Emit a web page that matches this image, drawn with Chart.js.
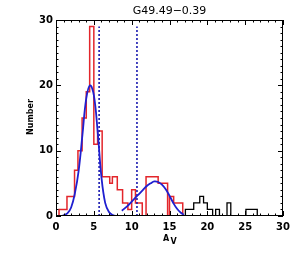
<!DOCTYPE html>
<html><head><meta charset="utf-8">
<script src="https://cdn.jsdelivr.net/npm/chart.js@4/dist/chart.umd.min.js"></script>
<style>html,body{margin:0;padding:0;background:#fff}canvas{display:block}</style>
</head><body>
<canvas id="c" width="300" height="253"></canvas>
<script>
// ---- data ----
const titleText = 'G49.49\u22120.39';
const xLabelMain = 'A';
const xLabelSub = 'V';
const yLabel = 'Number';
const xTickValues = [0, 5, 10, 15, 20, 25, 30];
const yTickValues = [0, 10, 20, 30];

// red histogram: bin edges (n+1) and counts (n)
const redEdges = [0.4, 1.45, 2.45, 2.9, 3.45, 4.0, 4.45, 5.0, 5.5, 6.1, 7.1, 7.45, 8.1, 8.8, 9.5, 10.0, 10.5, 11.4, 11.9, 13.5, 14.75, 15.0, 15.55, 16.75];
const redCounts = [1, 3, 7, 10, 15, 19, 29, 11, 13, 6, 5, 6, 4, 2, 1, 4, 2, 0, 6, 5, 0, 3, 2];

// black histogram (tail)
const blackEdges = [17.1, 18.2, 19.0, 19.5, 20.0, 20.7, 21.1, 21.6, 22.6, 23.1, 25.1, 26.6];
const blackCounts = [1, 2, 3, 2, 1, 0, 1, 0, 2, 0, 1];

// blue fitted curves
const fit1X = [0.8, 1.5, 2.0, 2.5, 3.0, 3.5, 4.0, 4.5, 5.0, 5.5, 6.0, 6.5, 7.0, 7.5, 8.0, 8.6];
const fit1Y = [0, 0.4, 1.3, 3.5, 7, 12.5, 18, 20, 18.5, 13, 6, 2, 0.6, 0.15, 0.02, 0];
const fit2X = [8.7, 9.5, 10.0, 10.5, 11.0, 11.5, 12.0, 12.5, 13.0, 13.5, 14.0, 14.5, 15.0, 15.5, 16.0, 16.5, 16.9];
const fit2Y = [0.8, 1.6, 2.2, 2.8, 3.4, 4.0, 4.6, 5.0, 5.3, 5.2, 4.8, 4.1, 3.1, 2.0, 1.1, 0.5, 0.2];

// dashed markers
const markerX = [5.7, 10.7];
const markerTop = 29;

// ---- build ----
function histPoints(edges, counts) {
  const pts = [{x: edges[0], y: 0}];
  for (let i = 0; i < counts.length; i++) pts.push({x: edges[i], y: counts[i]});
  pts.push({x: edges[edges.length - 1], y: 0});
  return pts;
}
function curvePoints(xs, ys) { return xs.map((x, i) => ({x, y: ys[i]})); }

const datasets = [
  {data: curvePoints(fit1X, fit1Y), borderColor: '#1f1fd0', borderWidth: 1.8, tension: 0.4, pointRadius: 0},
  {data: curvePoints(fit2X, fit2Y), borderColor: '#1f1fd0', borderWidth: 1.8, tension: 0.4, pointRadius: 0},
];
markerX.forEach(m => datasets.push({data: [{x: m, y: 0}, {x: m, y: markerTop}], borderColor: '#1a1ab0', borderWidth: 1.6, borderDash: [2, 2], pointRadius: 0}));
datasets.push({data: histPoints(redEdges, redCounts), borderColor: '#e3262b', borderWidth: 1.5, stepped: true, pointRadius: 0});
datasets.push({data: histPoints(blackEdges, blackCounts), borderColor: '#000000', borderWidth: 1.3, stepped: true, pointRadius: 0});

const frame = {
  id: 'frame',
  afterDraw(chart) {
    const {ctx, chartArea: a, scales: {x, y}} = chart;
    ctx.save();
    ctx.strokeStyle = '#000';
    ctx.lineWidth = 1;
    ctx.strokeRect(a.left + 0.5, a.top + 0.5, a.right - a.left - 1, a.bottom - a.top - 1);
    ctx.beginPath();
    for (let v = x.min; v <= x.max; v++) {
      const px = Math.round(x.getPixelForValue(v)) + 0.5;
      const len = v % 5 === 0 ? 5 : 2.5;
      ctx.moveTo(px, a.bottom); ctx.lineTo(px, a.bottom - len);
      ctx.moveTo(px, a.top); ctx.lineTo(px, a.top + len);
    }
    for (let v = y.min; v <= y.max; v++) {
      const py = Math.round(y.getPixelForValue(v)) + 0.5;
      const len = v % 10 === 0 ? 5 : 2.5;
      ctx.moveTo(a.left, py); ctx.lineTo(a.left + len, py);
      ctx.moveTo(a.right, py); ctx.lineTo(a.right - len, py);
    }
    ctx.stroke();
    ctx.fillStyle = '#000';
    ctx.font = '11px "DejaVu Sans"';
    ctx.textAlign = 'center';
    ctx.textBaseline = 'alphabetic';
    ctx.fillText(titleText, (a.left + a.right) / 2, 14);
    ctx.font = 'bold 8px "DejaVu Sans"';
    ctx.textAlign = 'left';
    ctx.fillText(xLabelMain, 163, 241);
    ctx.fillText(xLabelSub, 170.5, 244);
    ctx.save();
    ctx.translate(33, 117);
    ctx.rotate(-Math.PI / 2);
    ctx.textAlign = 'center';
    ctx.fillText(yLabel, 0, 0);
    ctx.restore();
    ctx.restore();
  }
};

new Chart(document.getElementById('c'), {
  type: 'line',
  data: {datasets},
  options: {
    responsive: false,
    animation: false,
    layout: {padding: {top: 20, right: 17, bottom: 0, left: 0}},
    plugins: {legend: {display: false}, tooltip: {enabled: false}, title: {display: false}},
    scales: {
      x: {
        type: 'linear', min: 0, max: 30,
        grid: {display: false, drawTicks: false},
        border: {display: false},
        afterBuildTicks: s => { s.ticks = xTickValues.map(v => ({value: v})); },
        ticks: {color: '#000', padding: 5, maxRotation: 0, font: {family: 'DejaVu Sans', size: 10, weight: 'bold'}},
        afterFit: s => { s.height = 37; }
      },
      y: {
        type: 'linear', min: 0, max: 30,
        grid: {display: false, drawTicks: false},
        border: {display: false},
        afterBuildTicks: s => { s.ticks = yTickValues.map(v => ({value: v})); },
        ticks: {color: '#000', padding: 3, font: {family: 'DejaVu Sans', size: 10, weight: 'bold'}},
        afterFit: s => { s.width = 56; }
      }
    }
  },
  plugins: [frame]
});
</script>
</body></html>
